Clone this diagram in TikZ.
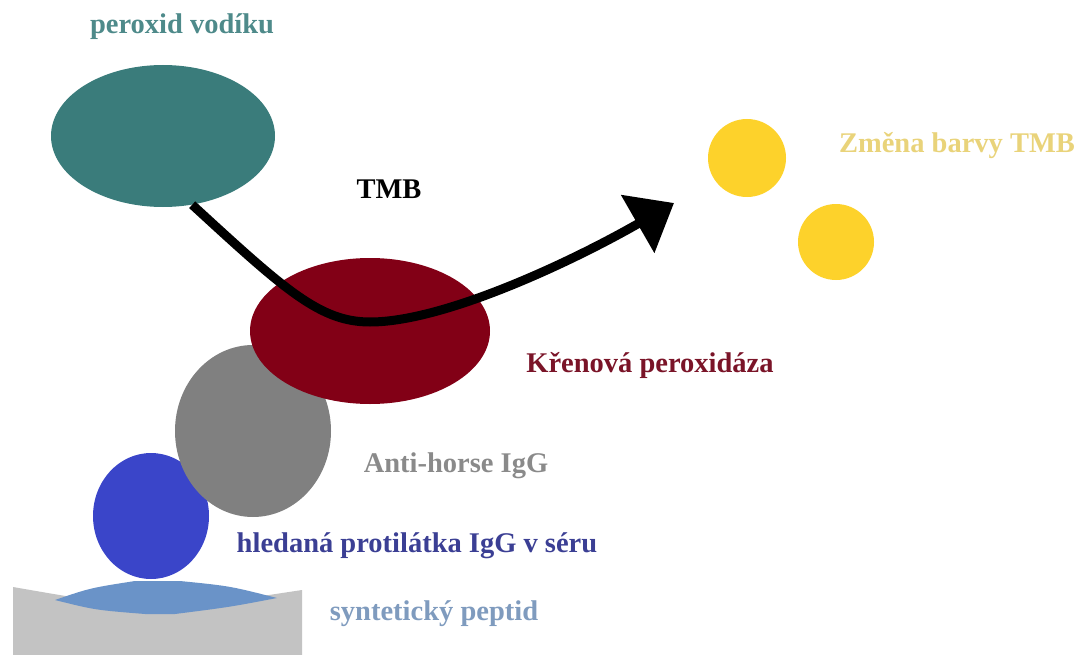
\documentclass[tikz,border=0pt]{standalone}
\usepackage{fontspec}
\setmainfont{Liberation Serif}
\usetikzlibrary{shapes.geometric,arrows.meta}
\definecolor{tealfill}{HTML}{3A7C7B}
\definecolor{tealtext}{HTML}{4E8A8A}
\definecolor{redfill}{HTML}{820016}
\definecolor{redtext}{HTML}{7A1428}
\definecolor{grayfill}{HTML}{808080}
\definecolor{graytext}{HTML}{8A8A8A}
\definecolor{bluefill}{HTML}{3A45C9}
\definecolor{bluetext}{HTML}{3B3F94}
\definecolor{basefill}{HTML}{C3C3C3}
\definecolor{peptidefill}{HTML}{6A93C8}
\definecolor{peptidetext}{HTML}{7F9BBE}
\definecolor{yellowfill}{HTML}{FDD22B}
\definecolor{yellowtext}{HTML}{E9D37A}
\begin{document}
\begin{tikzpicture}[x=1pt,y=-1pt,
  blob/.style={ellipse,inner sep=0pt,draw=none},
  label/.style={font=\fontsize{28.5}{34}\selectfont\bfseries,anchor=base,inner sep=0pt},
  flow/.style={line width=9pt,-{Triangle[length=42pt,width=65pt]}}]
\useasboundingbox (0,0) rectangle (1083,655);
% support surface
\fill[basefill] (13,587) .. controls (157,612) .. (302,590) -- (302,655) -- (13,655) -- cycle;
% synthetic peptide
\fill[peptidefill] (55,600) .. controls (90,588) .. (135,581) -- (180,581)
  .. controls (230,586) .. (277,598) .. controls (230,607) .. (175,614) -- (145,614)
  .. controls (95,610) .. (55,600) -- cycle;
% molecules
\node[blob,fill=bluefill,minimum width=116pt,minimum height=126pt] (blue) at (151,516) {};
\node[blob,fill=grayfill,minimum width=156pt,minimum height=172pt] (gray) at (253,431) {};
\node[blob,fill=redfill,minimum width=240pt,minimum height=146pt] (red) at (370,331) {};
\node[blob,fill=tealfill,minimum width=224pt,minimum height=142pt] (teal) at (163,136) {};
\node[circle,inner sep=0pt,fill=yellowfill,minimum size=78pt] (y1) at (747,158) {};
\node[circle,inner sep=0pt,fill=yellowfill,minimum size=76pt] (y2) at (836,242) {};
% arrow
\coordinate (low) at (370,322);
\coordinate (tip) at (674,203);
\draw[flow] (teal.-67) .. controls (285,290) and (320,322) .. (low)
  .. controls (445,322) and (575,260) .. (tip);
% labels
\node[label,text=tealtext] (lteal) at (182,34) {peroxid vodíku};
\node[label,text=black] (ltmb) at (389,198) {TMB};
\node[label,text=yellowtext] (lyel) at (957,153) {Změna barvy TMB};
\node[label,text=redtext] (lred) at (650,372) {Křenová peroxidáza};
\node[label,text=graytext] (lgray) at (456,472) {Anti-horse IgG};
\node[label,text=bluetext] (lblue) at (417,552) {hledaná protilátka IgG v séru};
\node[label,text=peptidetext] (lpep) at (434,620) {syntetický peptid};
\end{tikzpicture}
\end{document}
